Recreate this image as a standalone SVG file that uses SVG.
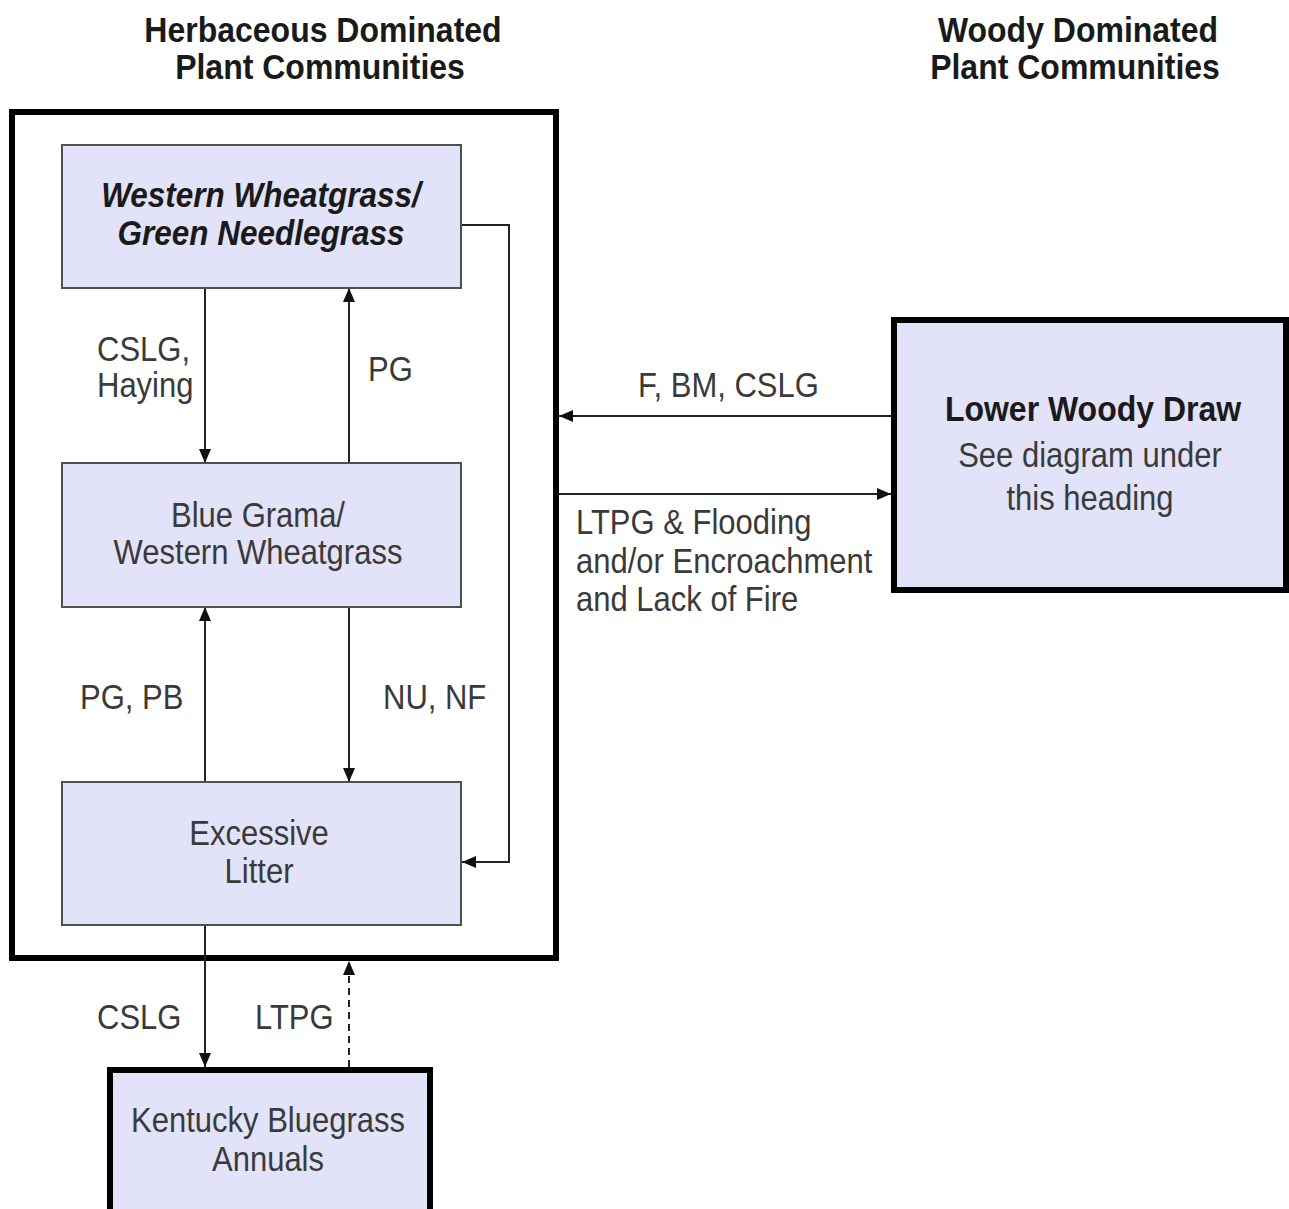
<svg xmlns="http://www.w3.org/2000/svg" width="1289" height="1209" viewBox="0 0 1289 1209">
<style>
text{font-family:"Liberation Sans",Arial,sans-serif;font-size:31px;fill:#3a3a3a}
.h{font-weight:bold;fill:#1a1a1a;font-size:32px}
.bi{font-weight:bold;font-style:italic;fill:#1a1a1a;font-size:31.5px}
.m{text-anchor:middle}
.node{fill:#e2e2f8;stroke:#505050;stroke-width:2}
.thick{fill:#e2e2f8;stroke:#000;stroke-width:6}
.c{fill:none;stroke:#222;stroke-width:2}
.d{stroke-dasharray:7,5}
</style>
<defs>
<marker id="a" viewBox="0 0 14 12" refX="14" refY="6" markerWidth="14" markerHeight="12" markerUnits="userSpaceOnUse" orient="auto"><path d="M0,0L14,6L0,12z" fill="#111"/></marker>
</defs>
<rect width="1289" height="1209" fill="#fff"/>
<g id="headings">
<text class="h m" transform="matrix(1,0,0,1.1,323,42)">Herbaceous Dominated</text>
<text class="h m" transform="matrix(1,0,0,1.1,320,79)">Plant Communities</text>
<text class="h m" transform="matrix(1,0,0,1.1,1078,42)">Woody Dominated</text>
<text class="h m" transform="matrix(1,0,0,1.1,1075,79)">Plant Communities</text>
</g>
<g id="herbaceous-group"><rect x="12" y="112" width="544" height="846" fill="none" stroke="#000" stroke-width="6"/></g>
<g id="connectors">
<line class="c" x1="205" y1="288" x2="205" y2="463" marker-end="url(#a)"/>
<line class="c" x1="349" y1="463" x2="349" y2="288" marker-end="url(#a)"/>
<line class="c" x1="205" y1="782" x2="205" y2="607" marker-end="url(#a)"/>
<line class="c" x1="349" y1="607" x2="349" y2="782" marker-end="url(#a)"/>
<polyline class="c" points="461,225 509,225 509,862 462,862" marker-end="url(#a)"/>
<line class="c" x1="893" y1="416" x2="559" y2="416" marker-end="url(#a)"/>
<line class="c" x1="559" y1="494" x2="891" y2="494" marker-end="url(#a)"/>
<line class="c" x1="205" y1="925" x2="205" y2="1067" marker-end="url(#a)"/>
<line class="c d" x1="349" y1="1067" x2="349" y2="961" marker-end="url(#a)"/>
</g>
<g id="labels">
<text x="97" y="361" transform="matrix(1,0,0,1.12,0,-43)">CSLG,</text>
<text x="97" y="396" transform="matrix(1,0,0,1.12,0,-47)">Haying</text>
<text x="368" y="381" transform="matrix(1,0,0,1.12,0,-46)">PG</text>
<text x="80" y="709" transform="matrix(1,0,0,1.12,0,-85)">PG, PB</text>
<text x="383" y="709" transform="matrix(1,0,0,1.12,0,-85)">NU, NF</text>
<text x="97" y="1029" transform="matrix(1,0,0,1.12,0,-123)">CSLG</text>
<text x="255" y="1029" transform="matrix(1,0,0,1.12,0,-123)">LTPG</text>
<text x="638" y="396" transform="matrix(1,0,0,1.12,0,-47)">F, BM, CSLG</text>
<text x="576" y="534" transform="matrix(1,0,0,1.12,0,-64)">LTPG &amp; Flooding</text>
<text x="576" y="573" transform="matrix(1,0,0,1.12,0,-69)">and/or Encroachment</text>
<text x="576" y="611" transform="matrix(1,0,0,1.12,0,-73)">and Lack of Fire</text>
</g>
<g id="node-western-wheatgrass">
<rect class="node" x="62" y="145" width="399" height="143"/>
<text class="bi m" transform="matrix(1,0,0,1.12,261,207)">Western Wheatgrass/</text>
<text class="bi m" transform="matrix(1,0,0,1.12,261,245)">Green Needlegrass</text>
</g>
<g id="node-blue-grama">
<rect class="node" x="62" y="463" width="399" height="144"/>
<text class="m" transform="matrix(1,0,0,1.12,258,527)">Blue Grama/</text>
<text class="m" transform="matrix(1,0,0,1.12,258,564)">Western Wheatgrass</text>
</g>
<g id="node-excessive-litter">
<rect class="node" x="62" y="782" width="399" height="143"/>
<text class="m" transform="matrix(1,0,0,1.12,259,845)">Excessive</text>
<text class="m" transform="matrix(1,0,0,1.12,259,883)">Litter</text>
</g>
<g id="node-kentucky-bluegrass">
<rect class="thick" x="110" y="1070" width="320" height="150"/>
<text class="m" transform="matrix(1,0,0,1.12,268,1132)">Kentucky Bluegrass</text>
<text class="m" transform="matrix(1,0,0,1.12,268,1171)">Annuals</text>
</g>
<g id="node-lower-woody-draw">
<rect class="thick" x="894" y="320" width="392" height="270"/>
<text class="h m" transform="matrix(1,0,0,1.1,1093,421)">Lower Woody Draw</text>
<text class="m" transform="matrix(1,0,0,1.12,1090,467)">See diagram under</text>
<text class="m" transform="matrix(1,0,0,1.12,1090,510)">this heading</text>
</g>
</svg>
